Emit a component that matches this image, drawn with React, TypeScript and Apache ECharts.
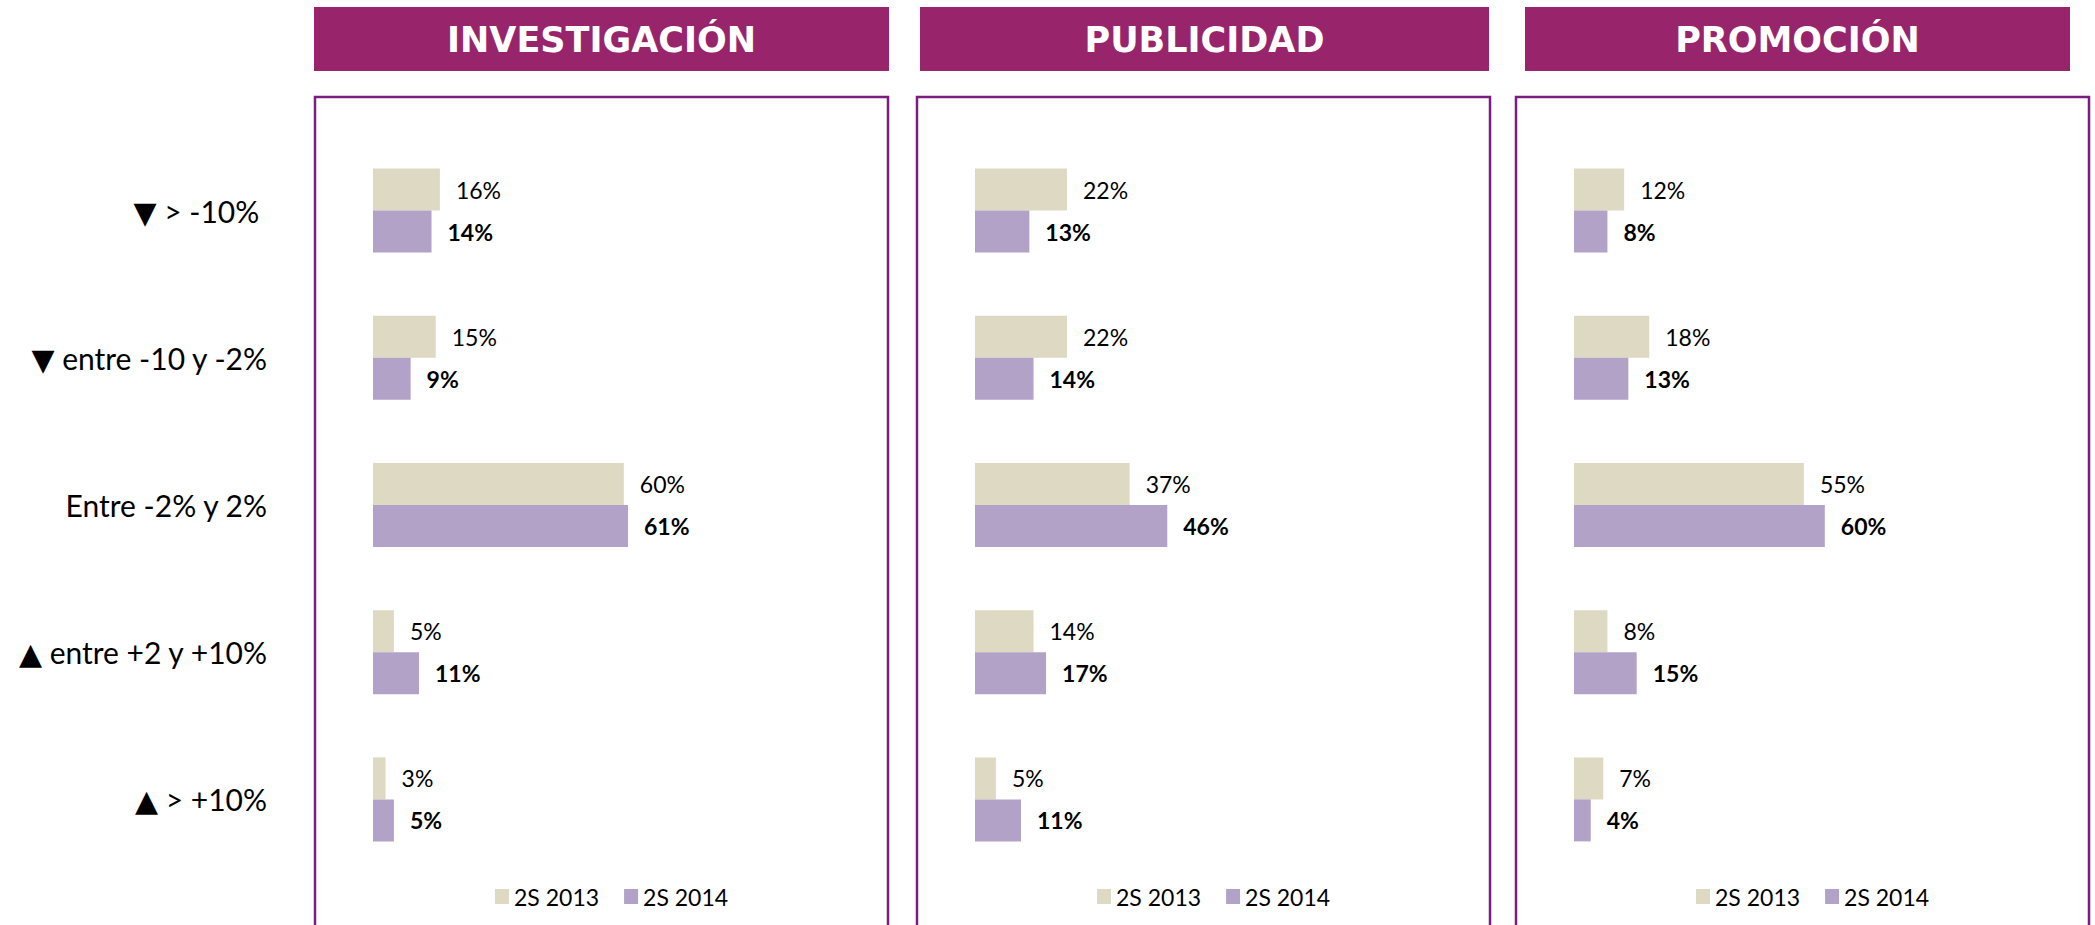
import React, { useEffect, useRef } from "react";
import * as echarts from "echarts";

const categories = ["▼ > -10% ", "▼ entre -10 y -2%", "Entre -2% y 2%", "▲ entre +2 y +10%", "▲ > +10%"];
const panelTitles = ["INVESTIGACIÓN", "PUBLICIDAD", "PROMOCIÓN"];
const seriesNames = ["2S 2013", "2S 2014"];

const investigacion2013 = [16, 15, 60, 5, 3];
const investigacion2014 = [14, 9, 61, 11, 5];
const publicidad2013 = [22, 22, 37, 14, 5];
const publicidad2014 = [13, 14, 46, 17, 11];
const promocion2013 = [12, 18, 55, 8, 7];
const promocion2014 = [8, 13, 60, 15, 4];

const panelData = [
  [investigacion2013, investigacion2014],
  [publicidad2013, publicidad2014],
  [promocion2013, promocion2014],
];

const panelLeft = [315, 917, 1516];
const panelWidth = 573;
const bandLeft = [314, 920, 1525];
const bandWidth = [575, 569, 545];
const colors = ["#DDD9C3", "#B3A2C7"];
const FONT = "Lato, 'DejaVu Sans', sans-serif";

export default function App() {
  const ref = useRef<HTMLDivElement>(null);
  useEffect(() => {
    if (!ref.current) return;
    const chart = echarts.init(ref.current, null, { renderer: "svg" });
    const grids: any[] = [];
    const xAxes: any[] = [];
    const yAxes: any[] = [];
    const series: any[] = [];
    const legends: any[] = [];
    const graphics: any[] = [];
    panelLeft.forEach((p, i) => {
      grids.push({ left: p + 58, top: 137, width: 418, height: 736 });
      xAxes.push({ type: "value", gridIndex: i, min: 0, max: 100, show: false });
      yAxes.push({
        type: "category",
        gridIndex: i,
        data: categories,
        inverse: true,
        axisLine: { show: false },
        axisTick: { show: false },
        axisLabel: {
          show: i === 0,
          margin: 106,
          fontSize: 30,
          color: "#000",
          fontFamily: FONT,
        },
      });
      panelData[i].forEach((vals, s) => {
        series.push({
          type: "bar",
          name: seriesNames[s],
          xAxisIndex: i,
          yAxisIndex: i,
          data: vals,
          barWidth: 42,
          barGap: "0%",
          itemStyle: { color: colors[s] },
          label: {
            show: true,
            position: "right",
            distance: 16,
            formatter: "{c}%",
            fontSize: 23,
            fontWeight: s === 1 ? "bold" : "normal",
            color: "#000",
            fontFamily: FONT,
          },
        });
      });
      legends.push({
        data: seriesNames,
        left: p + 175,
        top: 880,
        itemWidth: 14,
        itemHeight: 15,
        itemGap: 25,
        icon: "rect",
        textStyle: { fontSize: 23, color: "#000", fontFamily: FONT },
      });
      graphics.push({
        type: "rect",
        shape: { x: bandLeft[i], y: 7, width: bandWidth[i], height: 64 },
        style: { fill: "#98246C" },
      });
      graphics.push({
        type: "text",
        x: bandLeft[i] + bandWidth[i] / 2,
        y: 40,
        style: {
          text: panelTitles[i],
          fill: "#fff",
          fontSize: 35,
          fontWeight: "bold",
          fontFamily: "'DejaVu Sans', sans-serif",
          align: "center",
          verticalAlign: "middle",
        },
      });
      graphics.push({
        type: "rect",
        shape: { x: p, y: 97, width: panelWidth, height: 900 },
        style: { fill: "none", stroke: "#7B1C7E", lineWidth: 2.5 },
      });
    });
    chart.setOption({
      animation: false,
      grid: grids,
      xAxis: xAxes,
      yAxis: yAxes,
      series,
      legend: legends,
      graphic: graphics,
    });
    return () => chart.dispose();
  }, []);
  return (
    <div
      ref={ref}
      style={{ position: "fixed", left: 0, top: 0, width: 2095, height: 925, background: "#fff" }}
    />
  );
}
